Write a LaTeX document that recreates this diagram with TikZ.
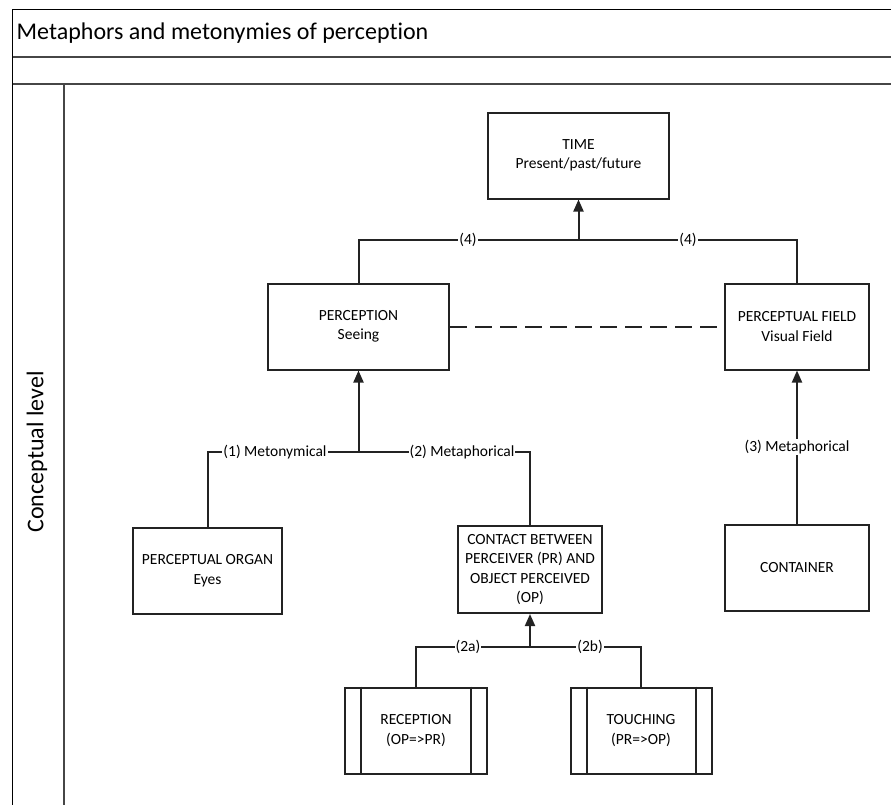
\documentclass[tikz,border=0pt]{standalone}
\usepackage{fontspec}
\setmainfont{Carlito}[Ligatures={TeX,NoCommon}]
\usetikzlibrary{arrows.meta}
\definecolor{lc}{RGB}{35,35,35}
\definecolor{bandc}{RGB}{70,70,70}
\begin{document}
\begin{tikzpicture}[x=1pt,y=-1pt,
  box/.style={draw=lc,line width=2pt,align=center,inner sep=0pt,minimum height=86pt,
    font=\fontsize{15.5}{19.5}\selectfont},
  lbl/.style={fill=white,inner sep=1pt,font=\fontsize{15.5}{19.5}\selectfont},
  conn/.style={draw=lc,line width=2pt},
  arr/.style={conn,-{Triangle[length=12pt,width=10pt]}},
  band/.style={draw=bandc,line width=2pt},
  bigtext/.style={font=\fontsize{24}{28}\selectfont,inner sep=0pt}]
\useasboundingbox (0,0) rectangle (891,804);
% frame
\draw[black,line width=1.5pt] (12.7,815) -- (12.7,9.5) -- (900,9.5);
\draw[band] (12.7,57) -- (900,57);
\draw[band] (12.7,84) -- (900,84);
\draw[band] (64,84) -- (64,815);
\node[bigtext,anchor=base west] (title) at (16.5,39.5) {Metaphors and metonymies of perception};
\node[bigtext,rotate=90] (lane) at (37,452) {Conceptual level};
% boxes
\node[box,minimum width=181pt] (time) at (578.5,155.5) {TIME\\Present/past/future};
\node[box,minimum width=181pt] (perc) at (358.5,326.5) {PERCEPTION\\Seeing};
\node[box,minimum width=144pt] (pf) at (797,326.5) {PERCEPTUAL FIELD\\Visual Field};
\node[box,minimum width=149pt] (organ) at (207.5,570.5) {PERCEPTUAL ORGAN\\Eyes};
\node[box,minimum width=143.5pt,minimum height=87pt] (contact) at (530,569.5) {CONTACT BETWEEN\\PERCEIVER (PR) AND\\OBJECT PERCEIVED\\(OP)};
\node[box,minimum width=144pt] (cont) at (797,568) {CONTAINER};
\node[box,minimum width=141.5pt] (rec) at (416,730.5) {RECEPTION\\(OP=>PR)};
\node[box,minimum width=141pt] (touch) at (641,730.5) {TOUCHING\\(PR=>OP)};
\draw[conn] ([xshift=17pt]rec.north west) -- ([xshift=17pt]rec.south west);
\draw[conn] ([xshift=-17pt]rec.north east) -- ([xshift=-17pt]rec.south east);
\draw[conn] ([xshift=17pt]touch.north west) -- ([xshift=17pt]touch.south west);
\draw[conn] ([xshift=-17pt]touch.north east) -- ([xshift=-17pt]touch.south east);
% connectors
\coordinate (j4) at (578.5,240);
\draw[arr] (j4) -- (time.south);
\draw[conn] (perc.north) |- (j4) -| (pf.north);
\coordinate (j1) at (358.5,452);
\draw[arr] (j1) -- (perc.south);
\draw[conn] (organ.north) |- (j1) -| (contact.north);
\draw[arr] (cont.north) -- (pf.south);
\coordinate (j2) at (530,647);
\draw[arr] (j2) -- (contact.south);
\draw[conn] (rec.north) |- (j2) -| (touch.north);
\draw[conn,dash pattern=on 17pt off 8pt] (perc.east) -- (pf.west);
% labels
\node[lbl] (l4a) at (468,240) {(4)};
\node[lbl] (l4b) at (688,240) {(4)};
\node[lbl] (l1) at (275,452) {(1) Metonymical};
\node[lbl] (l2) at (462,452) {(2) Metaphorical};
\node[lbl] (l3) at (797,447) {(3) Metaphorical};
\node[lbl] (l2a) at (468,647) {(2a)};
\node[lbl] (l2b) at (590,647) {(2b)};
\end{tikzpicture}
\end{document}
